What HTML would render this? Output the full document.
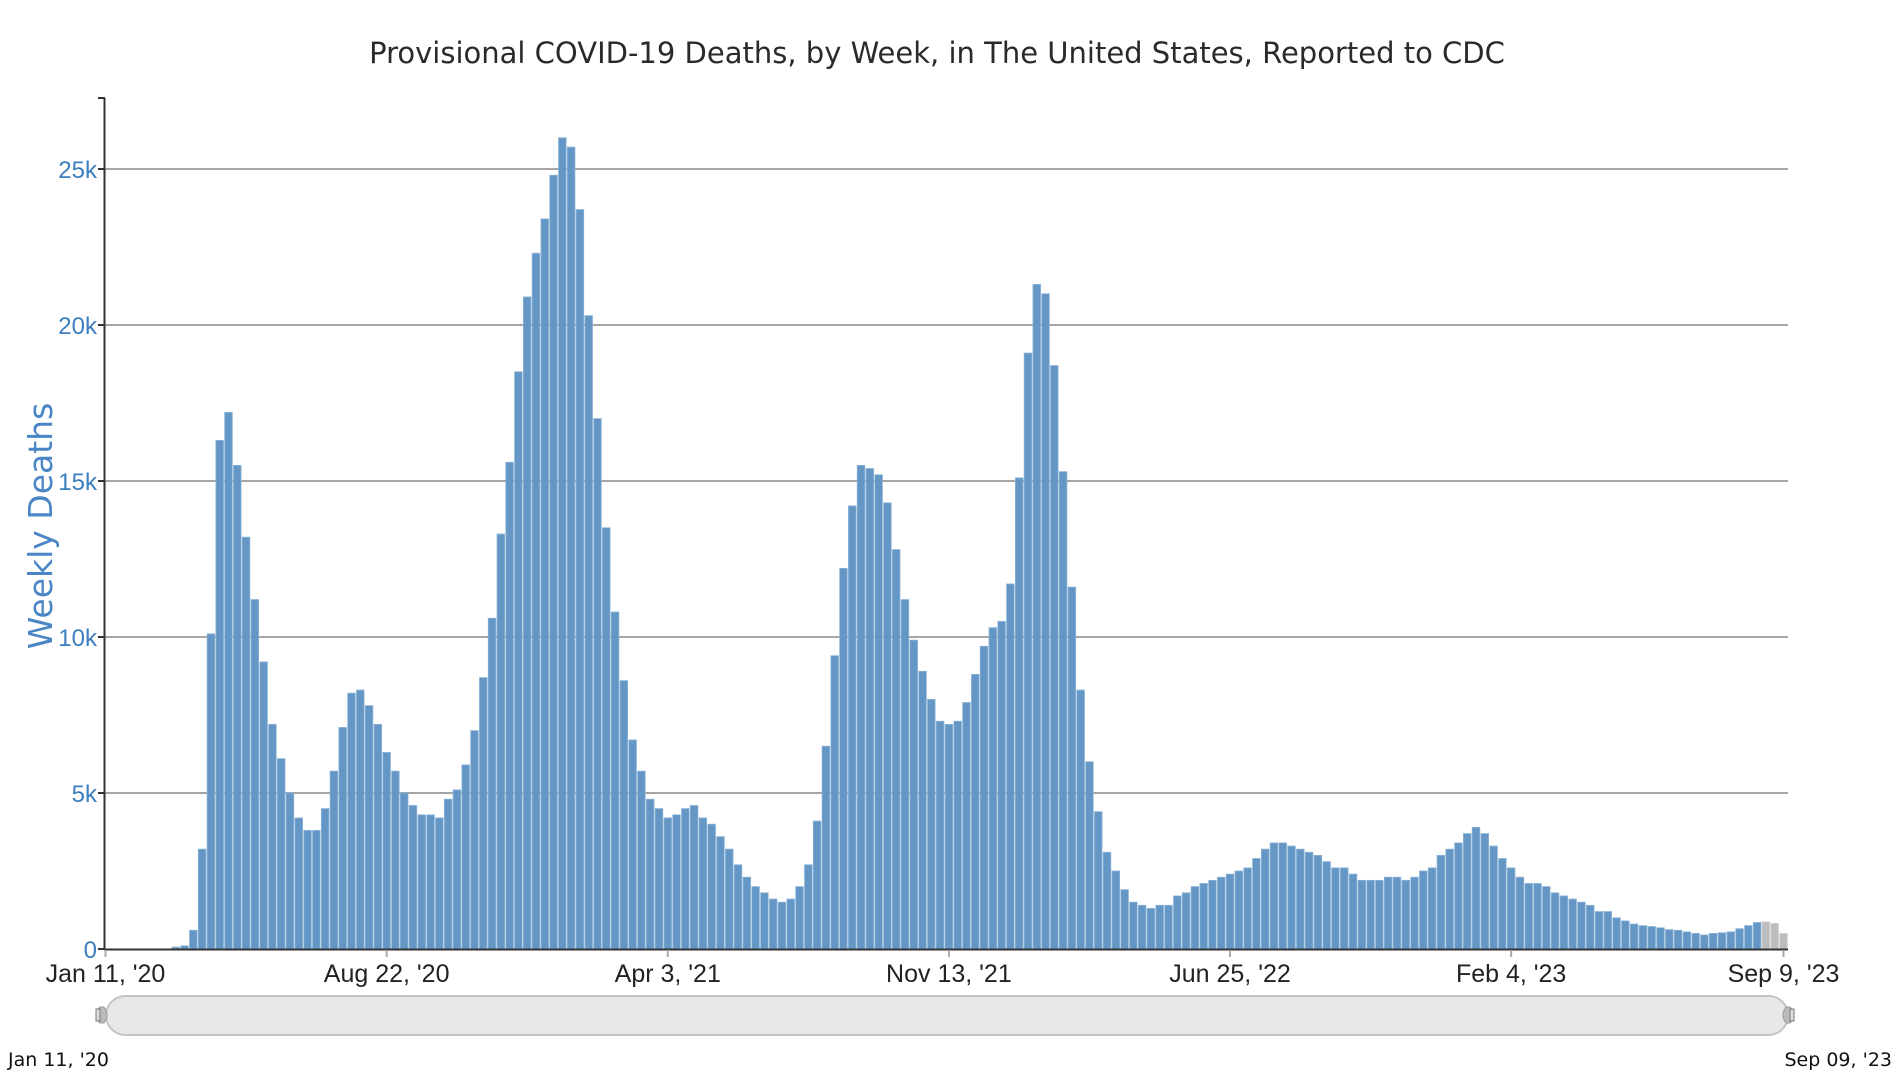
<!DOCTYPE html>
<html><head><meta charset="utf-8"><style>
html,body{margin:0;padding:0;background:#fff;}
svg{display:block;}
</style></head><body>
<svg id="s" width="1898" height="1078" xmlns="http://www.w3.org/2000/svg" font-family="Liberation Sans, sans-serif">
<text x="937" y="63" text-anchor="middle" font-size="29" fill="#2a2a2a" font-family="DejaVu Sans, Liberation Sans, sans-serif">Provisional COVID-19 Deaths, by Week, in The United States, Reported to CDC</text>
<text transform="translate(52,526) rotate(-90)" text-anchor="middle" font-size="33" fill="#4a86c5" font-family="DejaVu Sans, Liberation Sans, sans-serif">Weekly Deaths</text>
<g id="grid"></g>
<g id="bars"></g>
<line x1="104.5" y1="98" x2="104.5" y2="950" stroke="#333" stroke-width="2"/>
<line x1="98" y1="98" x2="105" y2="98" stroke="#333" stroke-width="2"/>
<line x1="104" y1="949.5" x2="1788" y2="949.5" stroke="#333" stroke-width="2"/>
<g id="xt"></g>
<rect x="106" y="996" width="1682" height="39" rx="19.5" fill="#e8e8e8" stroke="#c4c4c4" stroke-width="2"/>
<path d="M100,1007 L104,1007 Q110,1015 104,1023 L100,1023 Q92,1015 100,1007Z" fill="#bbb" stroke="#999"/>
<rect x="96" y="1009" width="4" height="12" fill="#ddd" stroke="#777"/>
<path d="M1790,1007 L1786,1007 Q1780,1015 1786,1023 L1790,1023 Q1798,1015 1790,1007Z" fill="#bbb" stroke="#999"/>
<rect x="1790" y="1009" width="4" height="12" fill="#ddd" stroke="#777"/>
<text x="8" y="1066" font-size="19" fill="#111" font-family="DejaVu Sans, Liberation Sans, sans-serif">Jan 11, '20</text>
<text x="1892" y="1066" text-anchor="end" font-size="19" fill="#111" font-family="DejaVu Sans, Liberation Sans, sans-serif">Sep 09, '23</text>
</svg>
<script>
var ns="http://www.w3.org/2000/svg",s=document.getElementById('s');
function el(p,t,a,txt){var e=document.createElementNS(ns,t);for(var k in a)e.setAttribute(k,a[k]);if(txt!==undefined)e.textContent=txt;document.getElementById(p).appendChild(e);return e;}
var base=949,per=31.2;
var labs=['0','5k','10k','15k','20k','25k'];
for(var i=0;i<6;i++){var y=base-i*5*per;
 if(i>0)el('grid','line',{x1:105,x2:1788,y1:y,y2:y,stroke:'#a5a5a5','stroke-width':2});
 el('grid','line',{x1:98,x2:105,y1:y,y2:y,stroke:'#333','stroke-width':2});
 el('grid','text',{x:97,y:y+9,'text-anchor':'end','font-size':24,fill:'#3d7ebf'},labs[i]);}
var v=[0,0,0,0,0,0,0,0,0.06,0.1,
0.6,3.2,10.1,16.3,17.2,15.5,13.2,11.2,9.2,7.2,
6.1,5.0,4.2,3.8,3.8,4.5,5.7,7.1,8.2,8.3,
7.8,7.2,6.3,5.7,5.0,4.6,4.3,4.3,4.2,4.8,
5.1,5.9,7.0,8.7,10.6,13.3,15.6,18.5,20.9,22.3,
23.4,24.8,26.0,25.7,23.7,20.3,17.0,13.5,10.8,8.6,
6.7,5.7,4.8,4.5,4.2,4.3,4.5,4.6,4.2,4.0,
3.6,3.2,2.7,2.3,2.0,1.8,1.6,1.5,1.6,2.0,
2.7,4.1,6.5,9.4,12.2,14.2,15.5,15.4,15.2,14.3,
12.8,11.2,9.9,8.9,8.0,7.3,7.2,7.3,7.9,8.8,
9.7,10.3,10.5,11.7,15.1,19.1,21.3,21.0,18.7,15.3,
11.6,8.3,6.0,4.4,3.1,2.5,1.9,1.5,1.4,1.3,
1.4,1.4,1.7,1.8,2.0,2.1,2.2,2.3,2.4,2.5,
2.6,2.9,3.2,3.4,3.4,3.3,3.2,3.1,3.0,2.8,
2.6,2.6,2.4,2.2,2.2,2.2,2.3,2.3,2.2,2.3,
2.5,2.6,3.0,3.2,3.4,3.7,3.9,3.7,3.3,2.9,
2.6,2.3,2.1,2.1,2.0,1.8,1.7,1.6,1.5,1.4,
1.2,1.2,1.0,0.9,0.8,0.75,0.72,0.68,0.62,0.6,
0.55,0.5,0.45,0.5,0.52,0.55,0.65,0.75,0.85,0.87,
0.82,0.5];
var n=v.length,x0=105.5,step=(1783.5-x0)/(n-1),w=step-1.2;
for(var i=0;i<n;i++){var h=v[i]*per;if(h<=0)continue;var gray=i>=n-3;
 el('bars','rect',{x:x0+i*step-w/2,y:base-h,width:w,height:h,fill:gray?'#bdbdc0':'#6497c5',stroke:gray?'#d0d0d2':'#8ab2d6','stroke-width':0.8});}
var tk=[[0,"Jan 11, '20"],[32,"Aug 22, '20"],[64,"Apr 3, '21"],[96,"Nov 13, '21"],[128,"Jun 25, '22"],[160,"Feb 4, '23"],[191,"Sep 9, '23"]];
tk.forEach(function(t){var x=x0+t[0]*step;
 el('xt','line',{x1:x,x2:x,y1:950,y2:957,stroke:'#aaa','stroke-width':2});
 el('xt','text',{x:x,y:982,'text-anchor':'middle','font-size':25,fill:'#222'},t[1]);});
</script>
</body></html>
